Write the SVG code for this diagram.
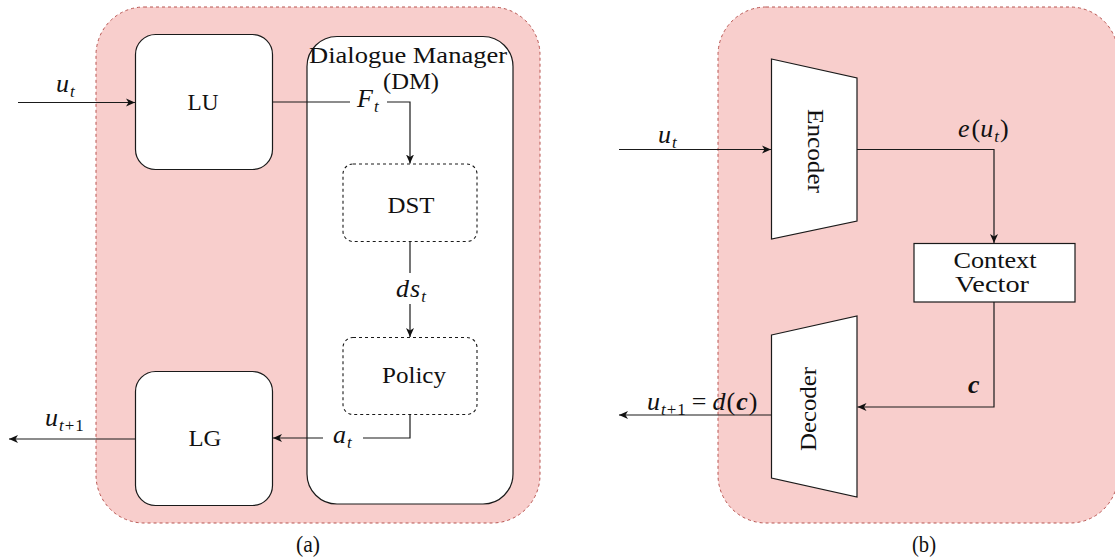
<svg xmlns="http://www.w3.org/2000/svg" width="1115" height="560" viewBox="0 0 1115 560">
  <style>
    .panel { fill: #f8cecc; stroke: #b85450; stroke-width: 1; stroke-dasharray: 3 3; }
    .box { fill: #ffffff; stroke: #1a1a1a; stroke-width: 1.2; }
    .dbox { fill: #ffffff; stroke: #1a1a1a; stroke-width: 1.1; stroke-dasharray: 3 3; }
    .edge { fill: none; stroke: #1a1a1a; stroke-width: 1.2; }
    .lbl { font-family: "Liberation Serif", "DejaVu Serif", serif; font-size: 23px; fill: #111; }
    .math { font-family: "Liberation Serif", "DejaVu Serif", serif; font-size: 26px; font-style: italic; fill: #111; }
    .sub { font-size: 17px; }
    .up { font-style: normal; }
    .bf { font-weight: bold; }
    .mid { text-anchor: middle; }
    .mask { fill: #ffffff; }
  </style>
  <defs>
    <marker id="arrow" markerUnits="userSpaceOnUse" markerWidth="10" markerHeight="9" refX="9" refY="4.5" orient="auto">
      <path d="M0,0.5 L9,4.5 L0,8.5 L2.5,4.5 z" fill="#111"/>
    </marker>
  </defs>

  <!-- (a) modular pipeline -->
  <g id="panel-a">
    <rect class="panel" x="96" y="7" width="444" height="516" rx="48" ry="48"/>
  </g>
  <g id="lu">
    <rect class="box" x="135.5" y="34.5" width="137" height="135" rx="20" ry="20"/>
    <text class="lbl mid" x="203" y="110" textLength="31" lengthAdjust="spacingAndGlyphs">LU</text>
  </g>
  <g id="dm">
    <rect class="box" x="307" y="36.5" width="206" height="467.5" rx="30" ry="30"/>
    <text class="lbl mid" x="408" y="63" textLength="198" lengthAdjust="spacingAndGlyphs">Dialogue Manager</text>
    <text class="lbl mid" x="411" y="89" textLength="56" lengthAdjust="spacingAndGlyphs">(DM)</text>
  </g>
  <g id="dst">
    <rect class="dbox" x="343" y="164" width="134" height="77.5" rx="10" ry="10"/>
    <text class="lbl mid" x="411" y="213" textLength="47" lengthAdjust="spacingAndGlyphs">DST</text>
  </g>
  <g id="policy">
    <rect class="dbox" x="343" y="337.5" width="134" height="77" rx="10" ry="10"/>
    <text class="lbl mid" x="414" y="383" textLength="64" lengthAdjust="spacingAndGlyphs">Policy</text>
  </g>
  <g id="lg">
    <rect class="box" x="135.5" y="371.5" width="137" height="134" rx="20" ry="20"/>
    <text class="lbl mid" x="205" y="446" textLength="33" lengthAdjust="spacingAndGlyphs">LG</text>
  </g>
  <text id="caption-a" class="lbl mid" x="308" y="552" font-size="19" textLength="24" lengthAdjust="spacingAndGlyphs">(a)</text>

  <!-- (b) encoder-decoder -->
  <g id="panel-b">
    <rect class="panel" x="718" y="7" width="400" height="516" rx="48" ry="48"/>
  </g>
  <g id="encoder">
    <polygon class="box" points="771.5,59 857,78 857,221 771.5,239"/>
    <text class="lbl mid" transform="translate(808,151) rotate(90)" textLength="84" lengthAdjust="spacingAndGlyphs">Encoder</text>
  </g>
  <g id="context-vector">
    <rect class="box" x="914" y="243.5" width="161" height="58.5"/>
    <text class="lbl mid" x="995" y="268" textLength="83" lengthAdjust="spacingAndGlyphs">Context</text>
    <text class="lbl mid" x="992" y="292" textLength="74" lengthAdjust="spacingAndGlyphs">Vector</text>
  </g>
  <g id="decoder">
    <polygon class="box" points="771.5,335 857,316 857,497 771.5,478"/>
    <text class="lbl mid" transform="translate(816,409) rotate(-90)" textLength="84" lengthAdjust="spacingAndGlyphs">Decoder</text>
  </g>
  <text id="caption-b" class="lbl mid" x="924" y="552" font-size="19" textLength="24" lengthAdjust="spacingAndGlyphs">(b)</text>

  <!-- connectors -->
  <g id="connectors">
    <!-- (a) -->
    <path class="edge" d="M18,102.5 H135" marker-end="url(#arrow)"/>
    <path class="edge" d="M272.5,102 H410 V163.5" marker-end="url(#arrow)"/>
    <path class="edge" d="M410,241.5 V337" marker-end="url(#arrow)"/>
    <path class="edge" d="M410,414.5 V438 H273" marker-end="url(#arrow)"/>
    <path class="edge" d="M135.5,439 H9" marker-end="url(#arrow)"/>
    <!-- (b) -->
    <path class="edge" d="M619,149.5 H771" marker-end="url(#arrow)"/>
    <path class="edge" d="M857,149.5 H994 V243" marker-end="url(#arrow)"/>
    <path class="edge" d="M994,302 V407 H857.5" marker-end="url(#arrow)"/>
    <path class="edge" d="M771.5,415 H619" marker-end="url(#arrow)"/>
  </g>

  <!-- connector labels (white backing breaks the line behind in-box labels) -->
  <g id="edge-labels">
    <text class="math" x="56" y="92">u<tspan class="sub" dy="5" dx="1">t</tspan></text>
    <rect class="mask" x="350" y="95" width="37" height="19"/>
    <text class="math" x="357" y="107">F<tspan class="sub" dy="5" dx="1">t</tspan></text>
    <rect class="mask" x="392" y="273" width="38" height="31"/>
    <text class="math" x="396" y="297">d<tspan dx="1">s</tspan><tspan class="sub" dy="5" dx="1">t</tspan></text>
    <rect class="mask" x="323" y="425" width="40" height="25"/>
    <text class="math" x="333" y="443">a<tspan class="sub" dy="5" dx="1">t</tspan></text>
    <text class="math" x="45" y="426">u<tspan class="sub" dy="5" dx="1">t</tspan><tspan class="sub up" dx="1">+</tspan><tspan class="sub up" dx="1">1</tspan></text>

    <text class="math" x="658" y="143">u<tspan class="sub" dy="5" dx="1">t</tspan></text>
    <text class="math" x="958" y="137">e<tspan class="up" dx="2">(</tspan>u<tspan class="sub" dy="5" dx="1">t</tspan><tspan class="up" dy="-5" dx="1">)</tspan></text>
    <text class="math bf" x="968" y="393">c</text>
    <text class="math" x="647" y="410">u<tspan class="sub" dy="5" dx="1">t</tspan><tspan class="sub up" dx="1">+</tspan><tspan class="sub up" dx="1">1</tspan><tspan class="up" dy="-5" dx="6">=</tspan><tspan dx="6">d</tspan><tspan class="up" dx="1">(</tspan><tspan class="bf" dx="1">c</tspan><tspan class="up" dx="1">)</tspan></text>
  </g>
</svg>
